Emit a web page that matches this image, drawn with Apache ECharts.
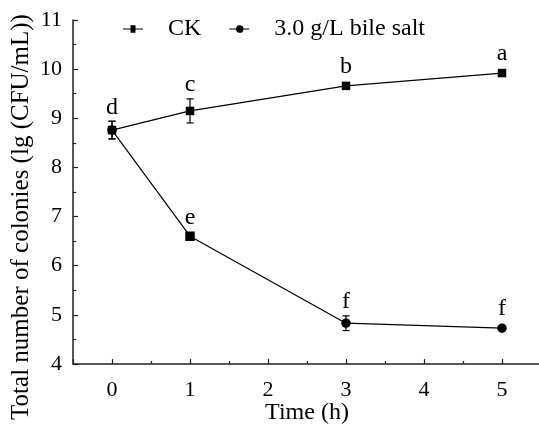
<!DOCTYPE html>
<html><head><meta charset="utf-8">
<script src="https://cdn.jsdelivr.net/npm/echarts@6/dist/echarts.min.js"></script>
<style>html,body{margin:0;padding:0;background:#fff}#c{width:539px;height:433px}</style>
</head><body><div id="c"></div>
<script>
const times = [0, 1, 3, 5];
const ckValues = [8.76, 9.15, 9.66, 9.92];
const ckErrors = [0.18, 0.245, 0.04, 0.04];
const ckLetters = ['d', 'c', 'b', 'a'];
const bileValues = [8.76, 6.60, 4.83, 4.73];
const bileErrors = [0.18, 0.04, 0.15, 0.04];
const bileLetters = ['', 'e', 'f', 'f'];
const seriesNames = ['CK', '3.0 g/L bile salt'];

const FONT = 'Liberation Serif';
const chart = echarts.init(document.getElementById('c'), null, {renderer: 'canvas'});

function errData(vals, errs) {
  return times.map((t, i) => [t, vals[i], errs[i]]);
}
function errRender(params, api) {
  const x = api.value(0), y = api.value(1), e = api.value(2);
  const top = api.coord([x, y + e]);
  const bot = api.coord([x, y - e]);
  const cw = 3.5;
  const st = {stroke: '#000', lineWidth: 1.2};
  return {type: 'group', children: [
    {type: 'line', shape: {x1: top[0], y1: top[1], x2: bot[0], y2: bot[1]}, style: st},
    {type: 'line', shape: {x1: top[0] - cw, y1: top[1], x2: top[0] + cw, y2: top[1]}, style: st},
    {type: 'line', shape: {x1: bot[0] - cw, y1: bot[1], x2: bot[0] + cw, y2: bot[1]}, style: st}
  ]};
}
let letterSeriesMap = {};
function letterRender(params, api) {
  const x = api.value(0), y = api.value(1), e = api.value(2);
  const txt = letterSeriesMap[params.seriesIndex][params.dataIndex];
  if (!txt) return null;
  const c = api.coord([x, y]);
  const t = api.coord([x, y + e]);
  const topY = Math.min(t[1], c[1] - 5) - 2;
  return {type: 'text', x: c[0], y: topY, style: {text: txt, fill: '#000', font: '24px "' + FONT + '"', align: 'center', verticalAlign: 'bottom'}};
}

const bileData = times.map((t, i) => {
  const d = {value: [t, bileValues[i]]};
  if (i === 1) d.symbol = 'rect';
  return d;
});

const option = {
  animation: false,
  backgroundColor: '#fff',
  textStyle: {fontFamily: FONT, color: '#000'},
  grid: {left: 73, right: -2, top: 20, bottom: 69, containLabel: false, outerBoundsMode: 'none'},
  legend: {
    data: [{name: seriesNames[0], icon: 'path://M0,4 L9,4 L9,0 L15,0 L15,4 L24,4 L24,5 L15,5 L15,9 L9,9 L9,5 L0,5 Z'},
           {name: seriesNames[1], icon: 'path://M0,4 L8,4 A4.5,4.5 0 1,1 8,5 L0,5 Z M16,4 L24,4 L24,5 L16,5 Z'}],
    left: 118, top: 12, itemWidth: 20, itemHeight: 8, itemGap: 28,
    textStyle: {fontFamily: FONT, fontSize: 24, color: '#000', padding: [0, 0, 0, 20]}
  },
  xAxis: {
    type: 'value', min: -0.5, max: 5.5,
    name: 'Time (h)', nameLocation: 'middle', nameGap: 37, nameMoveOverlap: false,
    nameTextStyle: {fontFamily: FONT, fontSize: 24, color: '#000'},
    axisLine: {show: true, onZero: false, lineStyle: {color: '#222', width: 1.5}},
    axisTick: {show: true, inside: true, length: 5, lineStyle: {color: '#222', width: 1.2}},
    minorTick: {show: true, splitNumber: 2, length: 3, lineStyle: {color: '#222', width: 1.2}},
    axisLabel: {fontFamily: FONT, fontSize: 22, color: '#000', margin: 15, showMinLabel: false, showMaxLabel: false},
    splitLine: {show: false}
  },
  yAxis: {
    type: 'value', min: 4, max: 11, interval: 1,
    name: 'Total number of colonies (lg (CFU/mL))', nameLocation: 'middle', nameGap: 39, nameMoveOverlap: false,
    nameTextStyle: {fontFamily: FONT, fontSize: 25, color: '#000', padding: [0, 50, 0, 0]},
    axisLine: {show: true, onZero: false, lineStyle: {color: '#222', width: 1.5}},
    axisTick: {show: true, inside: true, length: 5, lineStyle: {color: '#222', width: 1.2}},
    minorTick: {show: true, splitNumber: 2, length: 3, lineStyle: {color: '#222', width: 1.2}},
    axisLabel: {fontFamily: FONT, fontSize: 22, color: '#000', margin: 11},
    splitLine: {show: false}
  },
  series: [
    {type: 'custom', name: 'errCK', renderItem: errRender, data: errData(ckValues, ckErrors), z: 1, silent: true},
    {type: 'custom', name: 'errBile', renderItem: errRender, data: errData(bileValues, bileErrors), z: 1, silent: true},
    {type: 'line', name: seriesNames[0], data: times.map((t, i) => [t, ckValues[i]]), symbol: 'rect', symbolSize: 8.5,
     itemStyle: {color: '#000'}, lineStyle: {color: '#000', width: 1.2}, z: 3},
    {type: 'line', name: seriesNames[1], data: bileData, symbol: 'circle', symbolSize: 9.5,
     itemStyle: {color: '#000'}, lineStyle: {color: '#000', width: 1.2}, z: 3},
    {type: 'custom', name: 'lettersCK', renderItem: letterRender, data: errData(ckValues, ckErrors), z: 4, silent: true},
    {type: 'custom', name: 'lettersBile', renderItem: letterRender, data: errData(bileValues, bileErrors), z: 4, silent: true}
  ]
};
letterSeriesMap = {4: ckLetters, 5: bileLetters};
chart.setOption(option);
</script>
</body></html>
